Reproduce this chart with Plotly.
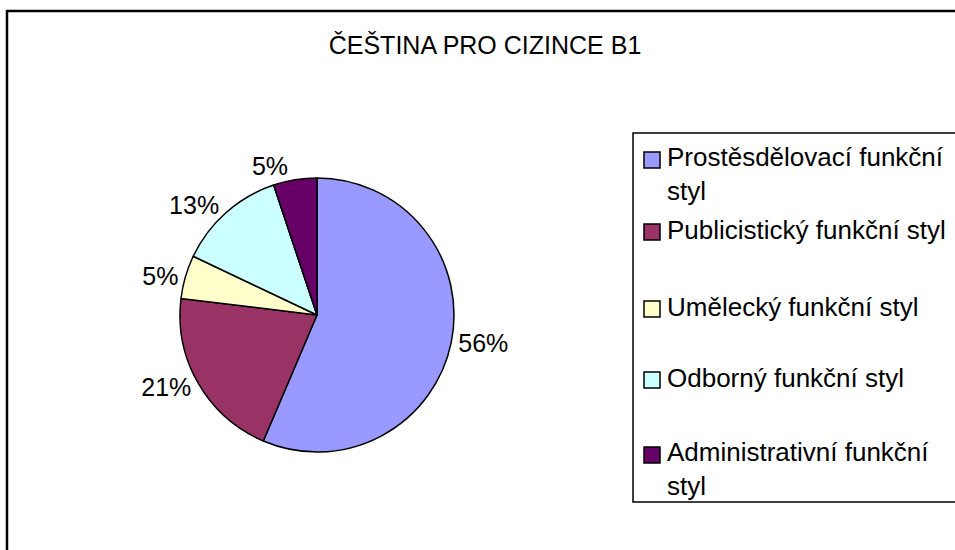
import plotly.graph_objects as go

# data
labels = ["Prostěsdělovací funkční styl", "Publicistický funkční styl",
          "Umělecký funkční styl", "Odborný funkční styl",
          "Administrativní funkční styl"]
legend_text = ["Prostěsdělovací funkční<br>styl", "Publicistický funkční styl",
               "Umělecký funkční styl", "Odborný funkční styl",
               "Administrativní funkční<br>styl"]
counts = [22, 8, 2, 5, 2]
colors = ["#9999FF", "#993366", "#FFFFCC", "#CCFFFF", "#660066"]
title = "ČEŠTINA PRO CIZINCE B1"

W, H = 955, 550
FONT = "Liberation Sans, Arial, sans-serif"


def px(x):
    return x / W


def py(y):
    return (H - y) / H


# pie centre (317, 315), radius 137 px
cx, cy, r = 317, 315, 137

fig = go.Figure(go.Pie(
    labels=labels, values=counts, sort=False, direction="clockwise",
    marker=dict(colors=colors, line=dict(color="black", width=1.5)),
    texttemplate="%{percent:.0%}", textposition="outside",
    textfont=dict(family=FONT, size=25, color="black"),
    domain=dict(x=[px(cx - r), px(cx + r)], y=[py(cy + r), py(cy - r)]),
    showlegend=False, hoverinfo="label+value+percent",
))


def open_box(x0, y0, y1, width):
    # left, top and bottom edges only; the right side runs off the picture
    path = "M 1.2 {b} L {x} {b} L {x} {t} L 1.2 {t}".format(
        x=px(x0), t=py(y0), b=py(y1))
    return dict(type="path", xref="paper", yref="paper", path=path,
                line=dict(color="black", width=width))


shapes = [
    open_box(7, 11, 600, 2.5),      # outer chart frame
    open_box(633, 133, 502, 1.5),   # legend frame
]
annotations = []

# hand-placed legend, Excel style
first_line = [158, 230, 307, 378, 453]
line_gap = 31
for i, txt in enumerate(legend_text):
    y0 = first_line[i]
    nlines = txt.count("<br>") + 1
    mid = y0 + (nlines - 1) * line_gap / 2
    shapes.append(dict(type="rect", xref="paper", yref="paper",
                       x0=px(644), x1=px(660), y0=py(y0 + 10), y1=py(y0 - 6),
                       fillcolor=colors[i], line=dict(color="black", width=1.5)))
    annotations.append(dict(text=txt, xref="paper", yref="paper",
                            x=px(665), y=py(mid), xanchor="left", yanchor="middle",
                            align="left", showarrow=False,
                            font=dict(family=FONT, size=26, color="black")))

fig.update_layout(
    width=W, height=H,
    margin=dict(l=0, r=0, t=0, b=0),
    paper_bgcolor="white", plot_bgcolor="white",
    title=dict(text=title, x=px(485), y=py(45), xanchor="center", yanchor="middle",
               font=dict(family=FONT, size=25, color="black")),
    shapes=shapes, annotations=annotations,
)

# no default body margin, so the figure sits at the page corner
fig.write_html("out.html", config={"displayModeBar": False},
               post_script="document.body.style.margin='0';"
                           "document.body.style.overflow='hidden';")
